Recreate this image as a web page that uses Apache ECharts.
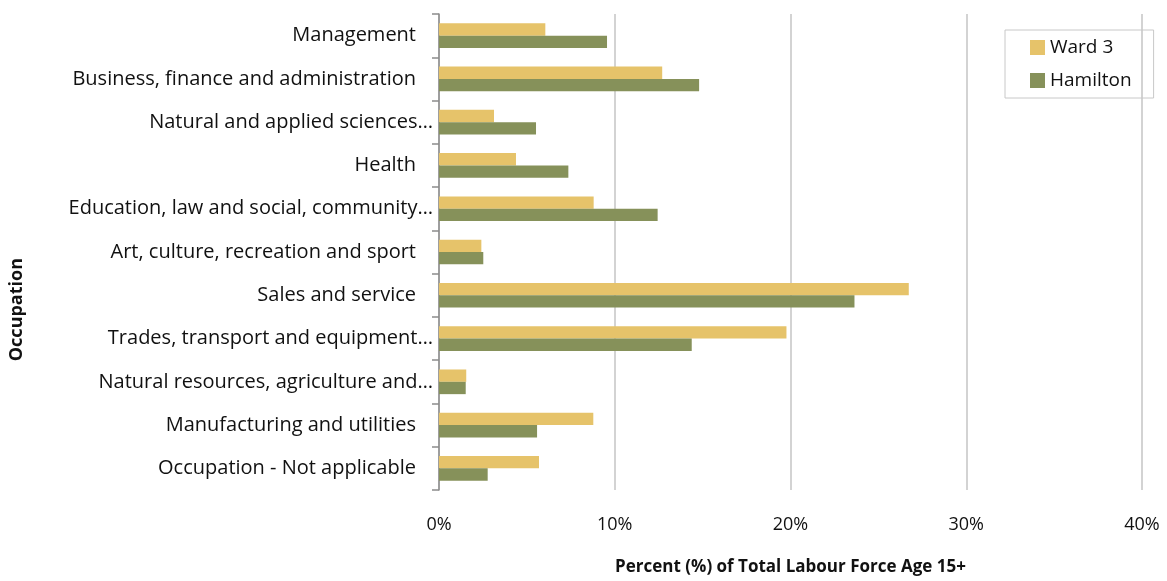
<!DOCTYPE html>
<html>
  <head>
    <meta charset="utf-8" />
    <title>Occupation - Ward 3 vs Hamilton</title>
    <script src="https://cdn.jsdelivr.net/npm/echarts@6/dist/echarts.min.js"></script>
    <style>
      body { margin: 0; background: #fff; }
      #chart { width: 1167px; height: 581px; }
    </style>
  </head>
  <body>
    <div id="chart"></div>
    <script>
      const categories = [
        'Management',
        'Business, finance and administration',
        'Natural and applied sciences…',
        'Health',
        'Education, law and social, community…',
        'Art, culture, recreation and sport',
        'Sales and service',
        'Trades, transport and equipment…',
        'Natural resources, agriculture and…',
        'Manufacturing and utilities',
        'Occupation - Not applicable'
      ];
      const ward3 = [6.05, 12.7, 3.13, 4.38, 8.8, 2.41, 26.73, 19.77, 1.55, 8.78, 5.69];
      const hamilton = [9.56, 14.8, 5.52, 7.36, 12.44, 2.52, 23.64, 14.38, 1.52, 5.58, 2.77];

      const font = '"Open Sans", "Noto Sans", sans-serif';
      const chart = echarts.init(document.getElementById('chart'));

      chart.setOption({
        animation: false,
        textStyle: { fontFamily: font },
        grid: { left: 439, right: 25, top: 14, bottom: 85, containLabel: false },
        legend: {
          orient: 'vertical',
          left: 1005,
          top: 30,
          padding: [8, 22, 8, 25],
          itemGap: 14,
          itemWidth: 15,
          itemHeight: 15,
          borderColor: '#c8c8c8',
          borderWidth: 1,
          icon: 'rect',
          textStyle: { fontSize: 19, color: '#111', fontFamily: font },
          data: ['Ward 3', 'Hamilton']
        },
        xAxis: {
          type: 'value',
          min: 0,
          max: 40,
          interval: 10,
          axisLine: { show: false },
          axisTick: { show: false },
          splitLine: { lineStyle: { color: '#c4c4c4', width: 1.5 } },
          axisLabel: {
            formatter: '{value}%',
            fontSize: 18,
            color: '#111',
            margin: 26
          },
          name: 'Percent (%) of Total Labour Force Age 15+',
          nameLocation: 'middle',
          nameGap: 69,
          nameTextStyle: { fontSize: 17, fontWeight: 'bold', color: '#111' }
        },
        yAxis: {
          type: 'category',
          inverse: true,
          data: categories,
          axisLine: { lineStyle: { color: '#8c8c8c', width: 1.5 } },
          axisTick: { show: true, length: 7, lineStyle: { color: '#8c8c8c', width: 1.5 } },
          axisLabel: {
            fontSize: 20,
            color: '#111',
            margin: 6,
            // untruncated labels sit a bit further from the axis, like the original
            formatter: function (v) {
              return v.endsWith('…') ? v : '{p|' + v + '}';
            },
            rich: { p: { fontSize: 20, color: '#111', padding: [0, 17, 0, 0] } }
          }
        },
        graphic: [{
          type: 'text',
          left: 8,
          top: 258,
          rotation: Math.PI / 2,
          style: {
            text: 'Occupation',
            font: 'bold 18px ' + font,
            fill: '#111'
          }
        }],
        series: [
          {
            name: 'Ward 3',
            type: 'bar',
            data: ward3,
            barGap: '0%',
            barCategoryGap: '43%',
            itemStyle: { color: '#e6c36a' }
          },
          {
            name: 'Hamilton',
            type: 'bar',
            data: hamilton,
            itemStyle: { color: '#86915a' }
          }
        ]
      });
    </script>
  </body>
</html>
